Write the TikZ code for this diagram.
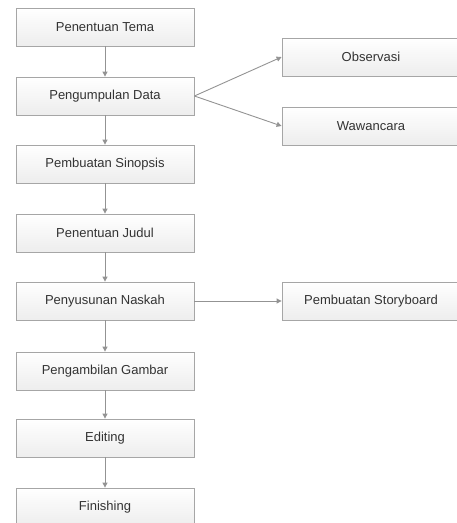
\documentclass[tikz,border=0pt]{standalone}
\usepackage{fontspec}
\setmainfont{Liberation Sans}
\usetikzlibrary{arrows.meta}

\begin{document}
\begin{tikzpicture}[x=1pt,y=-1pt,
    tahap/.style={draw=gray!70,line width=0.8pt,top color=white,bottom color=gray!14,
        minimum width=178pt,minimum height=38pt,inner sep=0pt,
        font=\fontsize{13pt}{15pt}\selectfont,text=black!80},
    panah/.style={draw=gray!85,line width=0.9pt,-{Triangle[width=5pt,length=5pt]}}]
    \pgfmathsetmacro{\kiri}{105}
    \pgfmathsetmacro{\kanan}{371}
    \clip (0,0) rectangle (457,523);
    % alur utama
    \node[tahap] (tema) at (\kiri,27) {Penentuan Tema};
    \node[tahap] (data) at (\kiri,96) {Pengumpulan Data};
    \node[tahap] (sinopsis) at (\kiri,164) {Pembuatan Sinopsis};
    \node[tahap] (judul) at (\kiri,233) {Penentuan Judul};
    \node[tahap] (naskah) at (\kiri,301) {Penyusunan Naskah};
    \node[tahap] (gambar) at (\kiri,371) {Pengambilan Gambar};
    \node[tahap] (editing) at (\kiri,438) {Editing};
    \node[tahap] (finishing) at (\kiri,507) {Finishing};
    % cabang kanan
    \node[tahap] (observasi) at (\kanan,57) {Observasi};
    \node[tahap] (wawancara) at (\kanan,126) {Wawancara};
    \node[tahap] (storyboard) at (\kanan,301) {Pembuatan Storyboard};
    \draw[panah] (tema) -- (data);
    \draw[panah] (data) -- (sinopsis);
    \draw[panah] (sinopsis) -- (judul);
    \draw[panah] (judul) -- (naskah);
    \draw[panah] (naskah) -- (gambar);
    \draw[panah] (gambar) -- (editing);
    \draw[panah] (editing) -- (finishing);
    \draw[panah] (data.east) -- (observasi.west);
    \draw[panah] (data.east) -- (wawancara.west);
    \draw[panah] (naskah) -- (storyboard);
\end{tikzpicture}
\end{document}
